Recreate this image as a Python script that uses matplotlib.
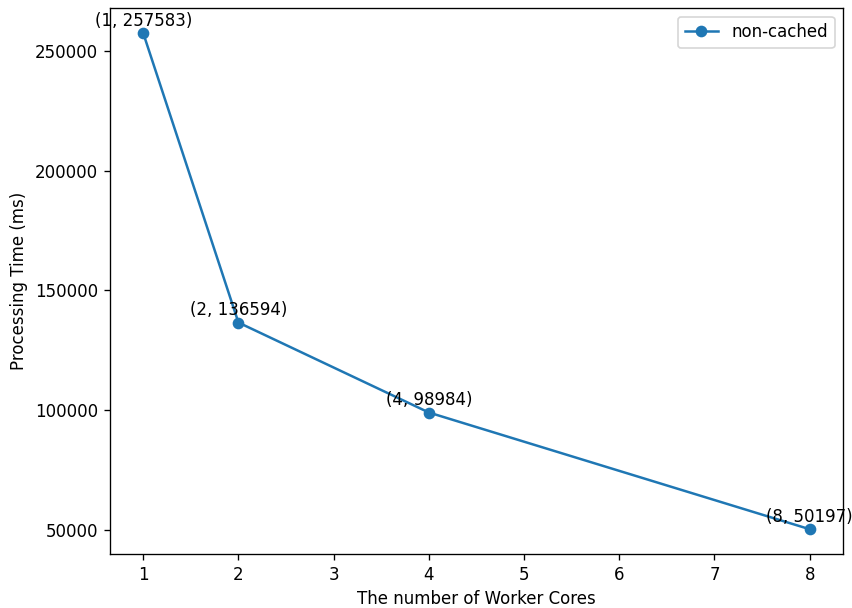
import matplotlib
matplotlib.use("Agg")
import matplotlib.pyplot as plt

cores = [1, 2, 4, 8]
times = [257583, 136594, 98984, 50197]

DPI = 120
fig = plt.figure(figsize=(852 / DPI, 608 / DPI), dpi=DPI)
ax = fig.add_axes([0.129, 0.0888, 0.8604, 0.8975])
ax.plot(cores, times, marker='o', label='non-cached')
for x, y in zip(cores, times):
    ax.annotate(f"({x}, {y})", (x, y), textcoords="offset points", xytext=(0, 4.5), ha='center')
ax.set_xlabel('The number of Worker Cores')
ax.set_ylabel('Processing Time (ms)')
ax.legend(loc='upper right')
fig.savefig('out.png', dpi=DPI)
